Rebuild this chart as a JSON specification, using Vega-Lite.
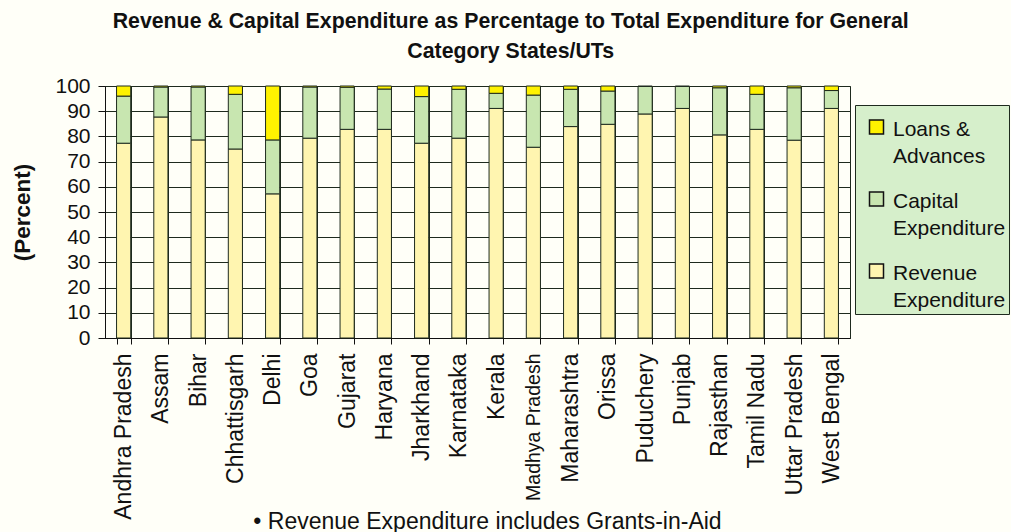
{
  "$schema": "https://vega.github.io/schema/vega-lite/v6.json",
  "width": 745,
  "height": 252,
  "autosize": {"type": "none"},
  "padding": {"left": 105, "top": 86, "right": 161, "bottom": 194},
  "background": "#FFFFF8",
  "title": {
    "text": ["Revenue & Capital Expenditure as Percentage to Total Expenditure for General", "Category States/UTs"],
    "font": "Liberation Sans",
    "fontSize": 21.3,
    "fontWeight": "bold",
    "color": "#111111",
    "anchor": "middle",
    "frame": "bounds",
    "lineHeight": 30,
    "offset": 13
  },
  "data": {
    "values": [
      {"state": "Andhra Pradesh", "series": "Revenue Expenditure", "rank": 1, "value": 77.3},
      {"state": "Andhra Pradesh", "series": "Capital Expenditure", "rank": 2, "value": 18.7},
      {"state": "Andhra Pradesh", "series": "Loans & Advances", "rank": 3, "value": 4.0},
      {"state": "Assam", "series": "Revenue Expenditure", "rank": 1, "value": 87.7},
      {"state": "Assam", "series": "Capital Expenditure", "rank": 2, "value": 11.9},
      {"state": "Assam", "series": "Loans & Advances", "rank": 3, "value": 0.4},
      {"state": "Bihar", "series": "Revenue Expenditure", "rank": 1, "value": 78.6},
      {"state": "Bihar", "series": "Capital Expenditure", "rank": 2, "value": 21.0},
      {"state": "Bihar", "series": "Loans & Advances", "rank": 3, "value": 0.4},
      {"state": "Chhattisgarh", "series": "Revenue Expenditure", "rank": 1, "value": 75.0},
      {"state": "Chhattisgarh", "series": "Capital Expenditure", "rank": 2, "value": 21.7},
      {"state": "Chhattisgarh", "series": "Loans & Advances", "rank": 3, "value": 3.3},
      {"state": "Delhi", "series": "Revenue Expenditure", "rank": 1, "value": 57.2},
      {"state": "Delhi", "series": "Capital Expenditure", "rank": 2, "value": 21.4},
      {"state": "Delhi", "series": "Loans & Advances", "rank": 3, "value": 21.4},
      {"state": "Goa", "series": "Revenue Expenditure", "rank": 1, "value": 79.3},
      {"state": "Goa", "series": "Capital Expenditure", "rank": 2, "value": 20.3},
      {"state": "Goa", "series": "Loans & Advances", "rank": 3, "value": 0.4},
      {"state": "Gujarat", "series": "Revenue Expenditure", "rank": 1, "value": 82.8},
      {"state": "Gujarat", "series": "Capital Expenditure", "rank": 2, "value": 16.7},
      {"state": "Gujarat", "series": "Loans & Advances", "rank": 3, "value": 0.5},
      {"state": "Haryana", "series": "Revenue Expenditure", "rank": 1, "value": 82.8},
      {"state": "Haryana", "series": "Capital Expenditure", "rank": 2, "value": 16.0},
      {"state": "Haryana", "series": "Loans & Advances", "rank": 3, "value": 1.2},
      {"state": "Jharkhand", "series": "Revenue Expenditure", "rank": 1, "value": 77.3},
      {"state": "Jharkhand", "series": "Capital Expenditure", "rank": 2, "value": 18.5},
      {"state": "Jharkhand", "series": "Loans & Advances", "rank": 3, "value": 4.2},
      {"state": "Karnataka", "series": "Revenue Expenditure", "rank": 1, "value": 79.3},
      {"state": "Karnataka", "series": "Capital Expenditure", "rank": 2, "value": 19.4},
      {"state": "Karnataka", "series": "Loans & Advances", "rank": 3, "value": 1.3},
      {"state": "Kerala", "series": "Revenue Expenditure", "rank": 1, "value": 91.1},
      {"state": "Kerala", "series": "Capital Expenditure", "rank": 2, "value": 6.0},
      {"state": "Kerala", "series": "Loans & Advances", "rank": 3, "value": 2.9},
      {"state": "Madhya Pradesh", "series": "Revenue Expenditure", "rank": 1, "value": 75.7},
      {"state": "Madhya Pradesh", "series": "Capital Expenditure", "rank": 2, "value": 20.7},
      {"state": "Madhya Pradesh", "series": "Loans & Advances", "rank": 3, "value": 3.6},
      {"state": "Maharashtra", "series": "Revenue Expenditure", "rank": 1, "value": 83.9},
      {"state": "Maharashtra", "series": "Capital Expenditure", "rank": 2, "value": 14.8},
      {"state": "Maharashtra", "series": "Loans & Advances", "rank": 3, "value": 1.3},
      {"state": "Orissa", "series": "Revenue Expenditure", "rank": 1, "value": 84.8},
      {"state": "Orissa", "series": "Capital Expenditure", "rank": 2, "value": 13.2},
      {"state": "Orissa", "series": "Loans & Advances", "rank": 3, "value": 2.0},
      {"state": "Puduchery", "series": "Revenue Expenditure", "rank": 1, "value": 88.9},
      {"state": "Puduchery", "series": "Capital Expenditure", "rank": 2, "value": 10.9},
      {"state": "Puduchery", "series": "Loans & Advances", "rank": 3, "value": 0.2},
      {"state": "Punjab", "series": "Revenue Expenditure", "rank": 1, "value": 91.1},
      {"state": "Punjab", "series": "Capital Expenditure", "rank": 2, "value": 8.7},
      {"state": "Punjab", "series": "Loans & Advances", "rank": 3, "value": 0.2},
      {"state": "Rajasthan", "series": "Revenue Expenditure", "rank": 1, "value": 80.6},
      {"state": "Rajasthan", "series": "Capital Expenditure", "rank": 2, "value": 18.7},
      {"state": "Rajasthan", "series": "Loans & Advances", "rank": 3, "value": 0.7},
      {"state": "Tamil Nadu", "series": "Revenue Expenditure", "rank": 1, "value": 82.8},
      {"state": "Tamil Nadu", "series": "Capital Expenditure", "rank": 2, "value": 13.9},
      {"state": "Tamil Nadu", "series": "Loans & Advances", "rank": 3, "value": 3.3},
      {"state": "Uttar Pradesh", "series": "Revenue Expenditure", "rank": 1, "value": 78.5},
      {"state": "Uttar Pradesh", "series": "Capital Expenditure", "rank": 2, "value": 20.8},
      {"state": "Uttar Pradesh", "series": "Loans & Advances", "rank": 3, "value": 0.7},
      {"state": "West Bengal", "series": "Revenue Expenditure", "rank": 1, "value": 91.1},
      {"state": "West Bengal", "series": "Capital Expenditure", "rank": 2, "value": 7.1},
      {"state": "West Bengal", "series": "Loans & Advances", "rank": 3, "value": 1.8}
    ]
  },
  "mark": {"type": "bar", "stroke": "#1e2a1e", "strokeWidth": 1},
  "encoding": {
    "x": {
      "field": "state",
      "type": "nominal",
      "sort": null,
      "scale": {"paddingInner": 0.62, "paddingOuter": 0.31},
      "axis": {
        "title": "• Revenue Expenditure includes Grants-in-Aid",
        "titleFont": "Liberation Sans",
        "titleFontSize": 23,
        "titleFontWeight": "normal",
        "titleColor": "#111111",
        "titleBaseline": "top",
        "titleX": 382,
        "titleY": 172,
        "labelAngle": -90,
        "labelAlign": "right",
        "labelBaseline": "middle",
        "labelFont": "Liberation Sans",
        "labelFontSize": {"condition": {"test": "datum.value === 'Madhya Pradesh'", "value": 19.5}, "value": 23},
        "labelColor": "#111111",
        "labelPadding": 9,
        "labelLimit": 300,
        "tickSize": 6,
        "tickColor": "#111111",
        "domainColor": "#111111",
        "grid": true,
        "gridColor": "#1e2a1e",
        "gridOpacity": 1,
        "gridWidth": 1,
        "tickBand": "extent"
      }
    },
    "y": {
      "field": "value",
      "type": "quantitative",
      "stack": "zero",
      "scale": {"domain": [0, 100], "nice": false},
      "axis": {
        "title": "(Percent)",
        "titleFont": "Liberation Sans",
        "titleFontSize": 22.5,
        "titleFontWeight": "bold",
        "titleColor": "#111111",
        "titlePadding": 20,
        "values": [0, 10, 20, 30, 40, 50, 60, 70, 80, 90, 100],
        "labelFont": "Liberation Sans",
        "labelFontSize": 21,
        "labelColor": "#111111",
        "labelPadding": 8,
        "tickSize": 7,
        "tickColor": "#111111",
        "domainColor": "#111111",
        "grid": true,
        "gridColor": "#1e2a1e",
        "gridOpacity": 1,
        "gridWidth": 1
      }
    },
    "color": {
      "field": "series",
      "type": "nominal",
      "scale": {
        "domain": ["Loans & Advances", "Capital Expenditure", "Revenue Expenditure"],
        "range": ["#FFF200", "#C8E6B0", "#FFF5B0"]
      },
      "legend": {
        "orient": "none",
        "legendX": 750,
        "legendY": 19,
        "title": null,
        "fillColor": "#D6EFCB",
        "strokeColor": "#1e2a1e",
        "padding": 3,
        "symbolOffset": 8,
        "labelFont": "Liberation Sans",
        "labelFontSize": 21,
        "labelColor": "#111111",
        "labelBaseline": "top",
        "labelOffset": 6,
        "labelLimit": 300,
        "labelExpr": "datum.label == 'Loans & Advances' ? ['Loans &', 'Advances'] : datum.label == 'Capital Expenditure' ? ['Capital', 'Expenditure'] : ['Revenue', 'Expenditure']",
        "symbolType": "M-1,0.2H1V2.2H-1Z",
        "symbolSize": 196,
        "symbolStrokeColor": "#111111",
        "symbolStrokeWidth": 1.5,
        "rowPadding": 13
      }
    },
    "order": {"field": "rank", "type": "quantitative"}
  },
  "config": {
    "view": {"stroke": "#1e2a1e", "strokeWidth": 1},
    "style": {"guide-label": {"lineHeight": 27}}
  }
}
